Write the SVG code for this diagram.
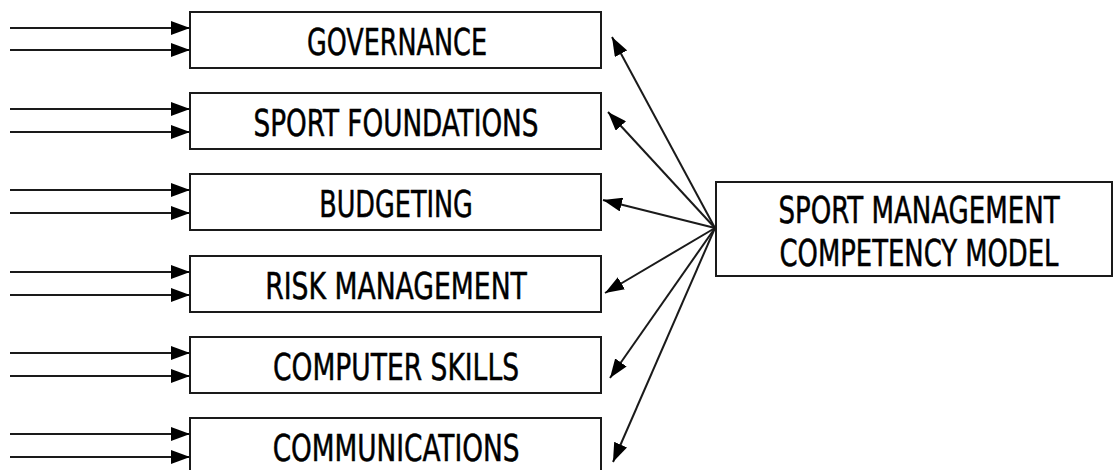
<svg xmlns="http://www.w3.org/2000/svg" width="1119" height="470" viewBox="0 0 1119 470">
  <style>
    .box { fill: #ffffff; stroke: #1a1a1a; stroke-width: 2; }
    .lbl { font-family: "DejaVu Sans", "Liberation Sans", sans-serif; font-stretch: condensed; font-size: 38px; fill: #000000; stroke: #000000; stroke-width: 0.5; text-anchor: middle; }
    .wire { stroke: #1a1a1a; stroke-width: 2; fill: none; marker-end: url(#head); }
  </style>
  <defs>
    <marker id="head" markerUnits="userSpaceOnUse" markerWidth="19" markerHeight="14" viewBox="0 0 19 14" refX="19" refY="7" orient="auto">
      <path d="M0,0 L19,7 L0,14 Z" fill="#000000"/>
    </marker>
  </defs>
  <rect width="1119" height="470" fill="#ffffff"/>

  <!-- competency boxes; labels are drawn at 75% horizontal scale -->
  <g id="governance">
    <rect class="box" x="190" y="12" width="411" height="56"/>
    <text class="lbl" transform="translate(397,55) scale(0.75,1)" textLength="240" lengthAdjust="spacingAndGlyphs">GOVERNANCE</text>
  </g>
  <g id="sport-foundations">
    <rect class="box" x="190" y="93" width="411" height="56"/>
    <text class="lbl" transform="translate(396,136) scale(0.75,1)" textLength="380" lengthAdjust="spacingAndGlyphs">SPORT FOUNDATIONS</text>
  </g>
  <g id="budgeting">
    <rect class="box" x="190" y="174" width="411" height="56"/>
    <text class="lbl" transform="translate(396,217) scale(0.75,1)" textLength="205" lengthAdjust="spacingAndGlyphs">BUDGETING</text>
  </g>
  <g id="risk-management">
    <rect class="box" x="190" y="256" width="411" height="56"/>
    <text class="lbl" transform="translate(396,299) scale(0.75,1)" textLength="349" lengthAdjust="spacingAndGlyphs">RISK MANAGEMENT</text>
  </g>
  <g id="computer-skills">
    <rect class="box" x="190" y="337" width="411" height="56"/>
    <text class="lbl" transform="translate(396,380) scale(0.75,1)" textLength="328" lengthAdjust="spacingAndGlyphs">COMPUTER SKILLS</text>
  </g>
  <g id="communications">
    <rect class="box" x="190" y="418" width="411" height="70"/>
    <text class="lbl" transform="translate(396,461) scale(0.75,1)" textLength="329" lengthAdjust="spacingAndGlyphs">COMMUNICATIONS</text>
  </g>

  <!-- central model box -->
  <g id="competency-model">
    <rect class="box" x="716" y="182" width="396" height="94"/>
    <text class="lbl" transform="translate(919,223) scale(0.75,1)" textLength="375" lengthAdjust="spacingAndGlyphs">SPORT MANAGEMENT</text>
    <text class="lbl" transform="translate(919,266) scale(0.75,1)" textLength="372" lengthAdjust="spacingAndGlyphs">COMPETENCY MODEL</text>
  </g>

  <!-- connectors -->
  <g id="connectors">
    <line class="wire" x1="10" y1="28" x2="190" y2="28"/>
    <line class="wire" x1="10" y1="50" x2="190" y2="50"/>
    <line class="wire" x1="10" y1="109" x2="190" y2="109"/>
    <line class="wire" x1="10" y1="132" x2="190" y2="132"/>
    <line class="wire" x1="10" y1="190" x2="190" y2="190"/>
    <line class="wire" x1="10" y1="213" x2="190" y2="213"/>
    <line class="wire" x1="10" y1="272" x2="190" y2="272"/>
    <line class="wire" x1="10" y1="295" x2="190" y2="295"/>
    <line class="wire" x1="10" y1="353" x2="190" y2="353"/>
    <line class="wire" x1="10" y1="376" x2="190" y2="376"/>
    <line class="wire" x1="10" y1="434" x2="190" y2="434"/>
    <line class="wire" x1="10" y1="457" x2="190" y2="457"/>

    <line class="wire" x1="715" y1="228" x2="612" y2="37"/>
    <line class="wire" x1="715" y1="228" x2="608" y2="112"/>
    <line class="wire" x1="715" y1="228" x2="603" y2="200"/>
    <line class="wire" x1="715" y1="228" x2="605" y2="293"/>
    <line class="wire" x1="715" y1="228" x2="610" y2="378"/>
    <line class="wire" x1="715" y1="228" x2="613" y2="462"/>
  </g>
</svg>
